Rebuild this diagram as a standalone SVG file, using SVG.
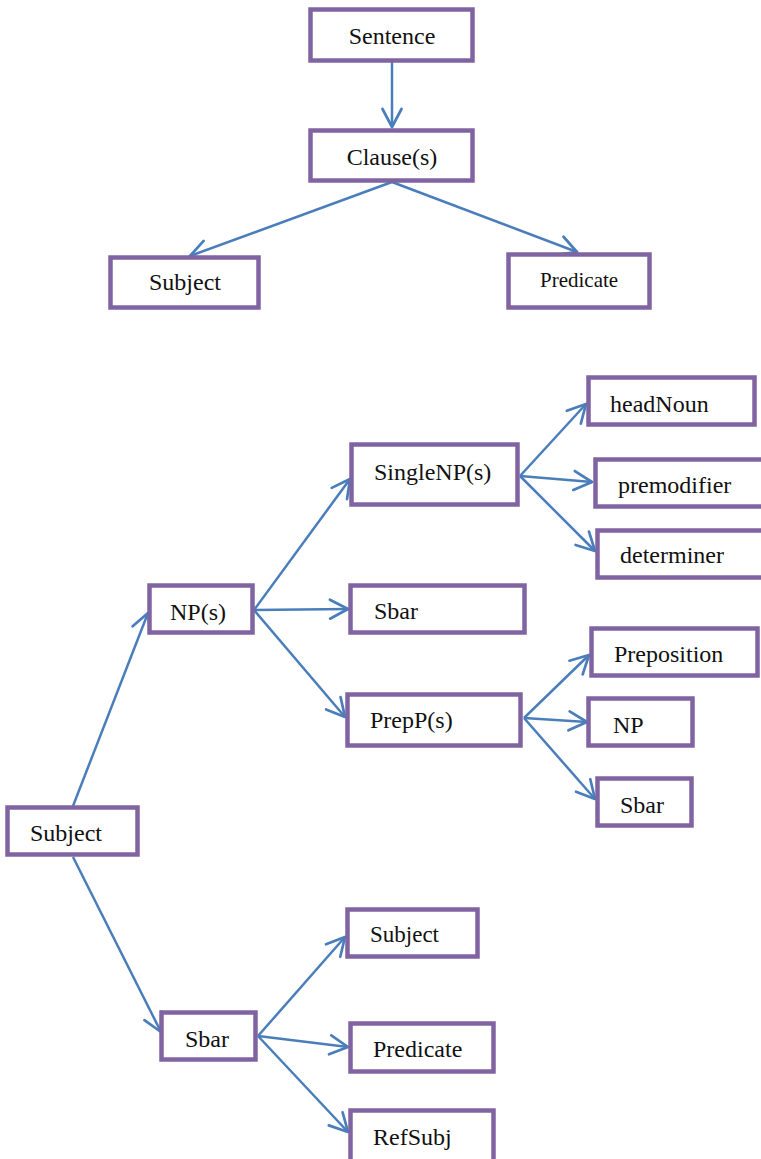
<svg xmlns="http://www.w3.org/2000/svg" width="761" height="1159" viewBox="0 0 761 1159">
<style>
.box{fill:#ffffff;stroke:#8064A2;stroke-width:4.5}
.t{font-family:"Liberation Serif","Times New Roman",serif;font-size:24px;fill:#111111}
.c{fill:none;stroke:#4A7EBB;stroke-width:2.5;marker-end:url(#arr)}
</style>
<defs>
<marker id="arr" markerUnits="userSpaceOnUse" markerWidth="40" markerHeight="40" refX="0" refY="0" orient="auto" overflow="visible">
<path d="M-18,-9.5 L0,0 L-18,9.5" fill="none" stroke="#4A7EBB" stroke-width="2.7" stroke-linejoin="round" stroke-linecap="round"/>
</marker>
</defs>
<rect width="761" height="1159" fill="#ffffff"/>
<g id="connectors">
<line class="c" x1="392" y1="62" x2="392" y2="127"/>
<line class="c" x1="392" y1="182" x2="190" y2="256"/>
<line class="c" x1="392" y1="182" x2="577" y2="252"/>
<line class="c" x1="73" y1="806" x2="148" y2="613"/>
<line class="c" x1="254" y1="610" x2="350" y2="479"/>
<line class="c" x1="254" y1="610" x2="348" y2="609"/>
<line class="c" x1="254" y1="610" x2="345" y2="717"/>
<line class="c" x1="520" y1="476" x2="586" y2="404"/>
<line class="c" x1="520" y1="476" x2="592" y2="482"/>
<line class="c" x1="520" y1="476" x2="595" y2="551"/>
<line class="c" x1="524" y1="718" x2="589" y2="655"/>
<line class="c" x1="524" y1="718" x2="587" y2="722"/>
<line class="c" x1="524" y1="718" x2="595" y2="799"/>
<line class="c" x1="73" y1="857" x2="161" y2="1032"/>
<line class="c" x1="258" y1="1036" x2="345" y2="937"/>
<line class="c" x1="258" y1="1036" x2="348" y2="1047"/>
<line class="c" x1="258" y1="1036" x2="348" y2="1132"/>
</g>
<g id="sentence"><rect class="box" x="310.5" y="9.5" width="162" height="51"/><text class="t" x="392" y="44" text-anchor="middle">Sentence</text></g>
<g id="clause"><rect class="box" x="310.5" y="130.5" width="162" height="50"/><text class="t" x="392" y="165" text-anchor="middle">Clause(s)</text></g>
<g id="subject-top"><rect class="box" x="110.5" y="257.5" width="148" height="50"/><text class="t" x="149" y="290">Subject</text></g>
<g id="predicate-top"><rect class="box" x="508.5" y="254.5" width="141" height="53"/><text class="t" x="540" y="287" style="font-size:21px">Predicate</text></g>
<g id="headnoun"><rect class="box" x="588.5" y="377.5" width="166" height="47"/><text class="t" x="610" y="412">headNoun</text></g>
<g id="singlenp"><rect class="box" x="351.5" y="444.5" width="166" height="60"/><text class="t" x="374" y="480">SingleNP(s)</text></g>
<g id="premodifier"><rect class="box" x="595.5" y="459.5" width="175" height="47"/><text class="t" x="618" y="493">premodifier</text></g>
<g id="determiner"><rect class="box" x="597.5" y="530.5" width="175" height="47"/><text class="t" x="620" y="563">determiner</text></g>
<g id="nps"><rect class="box" x="149.5" y="585.5" width="103" height="47"/><text class="t" x="170" y="620">NP(s)</text></g>
<g id="sbar-mid"><rect class="box" x="350.5" y="585.5" width="174" height="47"/><text class="t" x="374" y="619">Sbar</text></g>
<g id="preposition"><rect class="box" x="591.5" y="628.5" width="166" height="47"/><text class="t" x="614" y="662">Preposition</text></g>
<g id="prepp"><rect class="box" x="347.5" y="694.5" width="173" height="51"/><text class="t" x="370" y="728">PrepP(s)</text></g>
<g id="np-right"><rect class="box" x="588.5" y="698.5" width="104" height="47"/><text class="t" x="613" y="733">NP</text></g>
<g id="sbar-right"><rect class="box" x="597.5" y="778.5" width="94" height="47"/><text class="t" x="620" y="813">Sbar</text></g>
<g id="subject-left"><rect class="box" x="7.5" y="807.5" width="130" height="47"/><text class="t" x="30" y="841">Subject</text></g>
<g id="subject-bottom"><rect class="box" x="347.5" y="909.5" width="130" height="47"/><text class="t" x="370" y="942" style="font-size:23px">Subject</text></g>
<g id="sbar-bottom"><rect class="box" x="161.5" y="1012.5" width="94" height="47"/><text class="t" x="185" y="1047">Sbar</text></g>
<g id="predicate-bottom"><rect class="box" x="350.5" y="1023.5" width="143" height="48"/><text class="t" x="373" y="1057">Predicate</text></g>
<g id="refsubj"><rect class="box" x="350.5" y="1110.5" width="143" height="52"/><text class="t" x="373" y="1145">RefSubj</text></g>
</svg>
